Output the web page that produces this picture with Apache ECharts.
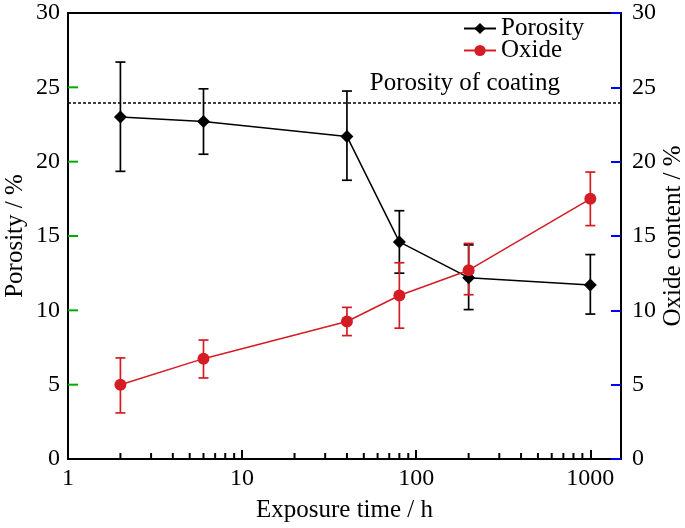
<!DOCTYPE html>
<html>
<head>
<meta charset="utf-8">
<script src="https://cdn.jsdelivr.net/npm/echarts@6/dist/echarts.min.js"></script>
<style>html,body{margin:0;padding:0;background:#fff;}#main{width:685px;height:528px;}</style>
</head>
<body>
<div id="main"></div>
<script>
// Data
const times = [2, 6, 40, 80, 200, 1000];
const porosity = [23.0, 22.7, 21.7, 14.6, 12.2, 11.7];
const porosityLow = [19.35, 20.5, 18.75, 12.5, 10.05, 9.75];
const porosityHigh = [26.7, 24.9, 24.75, 16.7, 14.4, 13.75];
const oxide = [5.0, 6.75, 9.25, 11.0, 12.7, 17.5];
const oxideLow = [3.1, 5.45, 8.3, 8.8, 11.05, 15.7];
const oxideHigh = [6.8, 8.0, 10.2, 13.2, 14.5, 19.3];
const coatingPorosity = 23.95;
const minorTicks = [2, 3, 4, 5, 6, 7, 8, 9, 20, 30, 40, 50, 60, 70, 80, 90, 200, 300, 400, 500, 600, 700, 800, 900];
const yTicks = [5, 10, 15, 20, 25];
const xMin = 1;
const xMax = 1500;

const FONT = '"Liberation Serif", "Times New Roman", serif';
const RED = '#d41c24';

const chart = echarts.init(document.getElementById('main'), null, {renderer: 'canvas'});

function errorBarSeries(name, lows, highs, color, yIndex) {
  return {
    name: name,
    type: 'custom',
    yAxisIndex: yIndex,
    silent: true,
    z: 2,
    data: times.map((t, i) => [t, lows[i], highs[i]]),
    renderItem: function (params, api) {
      const x = api.value(0);
      const p1 = api.coord([x, api.value(1)]);
      const p2 = api.coord([x, api.value(2)]);
      const hw = 5;
      const style = {stroke: color, lineWidth: 1.7};
      return {
        type: 'group',
        children: [
          {type: 'line', shape: {x1: p1[0], y1: p1[1], x2: p2[0], y2: p2[1]}, style: style},
          {type: 'line', shape: {x1: p1[0] - hw, y1: p1[1], x2: p1[0] + hw, y2: p1[1]}, style: style},
          {type: 'line', shape: {x1: p2[0] - hw, y1: p2[1], x2: p2[0] + hw, y2: p2[1]}, style: style}
        ]
      };
    }
  };
}

function tickSeries(name, data, size, offset, yIndex, color) {
  return {
    name: name,
    type: 'scatter',
    silent: true,
    z: 10,
    yAxisIndex: yIndex,
    data: data,
    symbol: 'rect',
    symbolSize: size,
    symbolOffset: offset,
    itemStyle: {color: color, opacity: 1},
    clip: false
  };
}

const axisLineStyle = {show: true, onZero: false, lineStyle: {color: '#000', width: 2}};

const option = {
  backgroundColor: '#fff',
  animation: false,
  textStyle: {fontFamily: FONT},
  grid: {left: 68, right: 64, top: 13, bottom: 69, containLabel: false, outerBoundsMode: 'none'},
  legend: {
    data: ['Porosity', 'Oxide'],
    orient: 'vertical',
    left: 458,
    top: 11,
    itemWidth: 32,
    itemHeight: 14,
    itemGap: -3,
    textStyle: {fontFamily: FONT, fontSize: 25, color: '#000'}
  },
  xAxis: [
    {
      type: 'log',
      logBase: 10,
      min: xMin,
      max: xMax,
      position: 'bottom',
      name: 'Exposure time / h',
      nameLocation: 'middle',
      nameGap: 39,
      nameMoveOverlap: false,
      nameTextStyle: {fontFamily: FONT, fontSize: 25, color: '#000'},
      axisLine: axisLineStyle,
      axisTick: {show: true, inside: true, length: 9, lineStyle: {color: '#000', width: 2}},
      axisLabel: {fontFamily: FONT, fontSize: 24, color: '#000', margin: 8, showMaxLabel: false,
                  formatter: function (v) { return String(Math.round(v)); }},
      splitLine: {show: false}
    },
    {
      type: 'log',
      logBase: 10,
      min: xMin,
      max: xMax,
      position: 'top',
      axisLine: axisLineStyle,
      axisTick: {show: false},
      axisLabel: {show: false},
      splitLine: {show: false}
    }
  ],
  yAxis: [
    {
      type: 'value',
      min: 0,
      max: 30,
      interval: 5,
      position: 'left',
      name: 'Porosity / %',
      nameLocation: 'middle',
      nameGap: 40,
      nameRotate: 90,
      nameMoveOverlap: false,
      nameTextStyle: {fontFamily: FONT, fontSize: 25, color: '#000'},
      axisLine: axisLineStyle,
      axisTick: {show: false},
      axisLabel: {fontFamily: FONT, fontSize: 24, color: '#000', margin: 8},
      splitLine: {show: false}
    },
    {
      type: 'value',
      min: 0,
      max: 30,
      interval: 5,
      position: 'right',
      name: 'Oxide content / %',
      nameLocation: 'middle',
      nameGap: 40,
      nameRotate: 90,
      nameMoveOverlap: false,
      nameTextStyle: {fontFamily: FONT, fontSize: 25, color: '#000'},
      axisLine: axisLineStyle,
      axisTick: {show: true, inside: true, length: 10, lineStyle: {color: '#00f', width: 2}},
      axisLabel: {fontFamily: FONT, fontSize: 24, color: '#000', margin: 11},
      splitLine: {show: false}
    }
  ],
  series: [
    tickSeries('minorTicks', minorTicks.map(v => [v, 0]), [2, 6], [0, -3], 0, '#000'),
    tickSeries('leftTicks', yTicks.map(v => [xMin, v]), [10, 2], [5, 0], 0, '#0a0'),
    errorBarSeries('porosityErr', porosityLow, porosityHigh, '#000', 0),
    {
      name: 'Porosity',
      type: 'line',
      yAxisIndex: 0,
      z: 3,
      data: times.map((t, i) => [t, porosity[i]]),
      symbol: 'diamond',
      symbolSize: 13,
      itemStyle: {color: '#000'},
      lineStyle: {color: '#000', width: 1.5},
      markLine: {
        silent: true,
        symbol: 'none',
        lineStyle: {color: '#000', width: 1.5, type: [3, 2]},
        label: {
          show: true,
          position: 'insideEndTop',
          formatter: 'Porosity of coating',
          fontFamily: FONT,
          fontSize: 25,
          color: '#000',
          distance: [61, 7]
        },
        data: [{yAxis: coatingPorosity}]
      }
    },
    errorBarSeries('oxideErr', oxideLow, oxideHigh, RED, 1),
    {
      name: 'Oxide',
      type: 'line',
      yAxisIndex: 1,
      z: 4,
      data: times.map((t, i) => [t, oxide[i]]),
      symbol: 'circle',
      symbolSize: 12,
      itemStyle: {color: RED},
      lineStyle: {color: RED, width: 1.5}
    }
  ]
};
chart.setOption(option);
</script>
</body>
</html>
